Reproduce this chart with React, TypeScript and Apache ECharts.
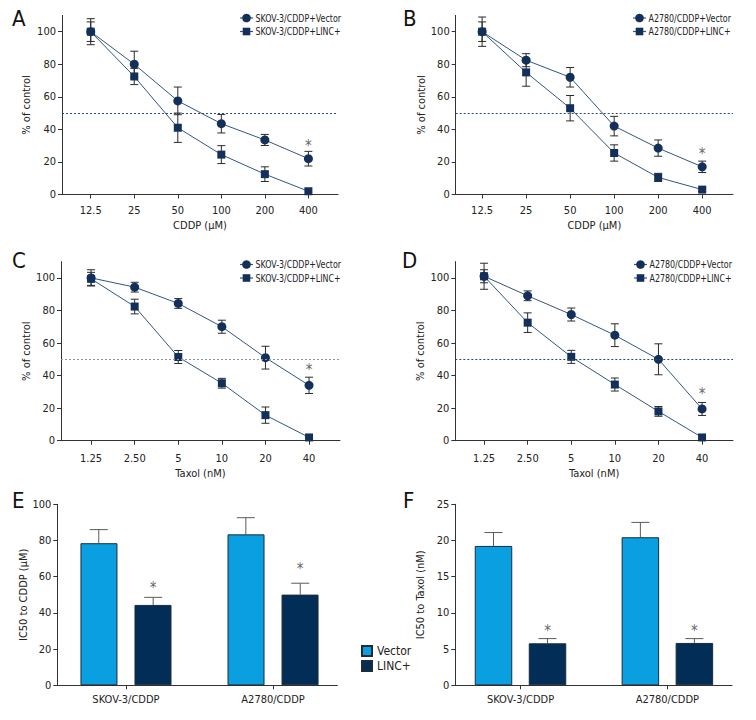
import React, { useEffect, useRef } from "react";
import * as echarts from "echarts";

// ---------- DATA ----------
const cddpDoses = ["12.5", "25", "50", "100", "200", "400"];
const taxolDoses = ["1.25", "2.50", "5", "10", "20", "40"];
const pctTicks = [0, 20, 40, 60, 80, 100];

const aVector = [100, 80, 57.5, 43.5, 33.5, 22];
const aVectorErr = [8, 8, 8.5, 5.7, 3.4, 4.5];
const aLinc = [100, 72.5, 41, 24.5, 12.5, 2];
const aLincErr = [6, 5, 9, 5.5, 4.5, 0];
const aStars = [[5, 30]];

const bVector = [100, 82.5, 72, 42, 28.5, 17];
const bVectorErr = [9, 4, 6, 6, 5, 3.5];
const bLinc = [100, 75, 53, 25.5, 10.5, 3];
const bLincErr = [6, 8.5, 7.8, 5, 2.5, 1];
const bStars = [[5, 25]];

const cVector = [100, 94.3, 84.3, 70, 51, 34];
const cVectorErr = [5, 3, 3, 4, 7, 5];
const cLinc = [99.4, 82.4, 51.4, 35.3, 15.7, 2];
const cLincErr = [4, 4.5, 4, 3, 5, 0];
const cStars = [[5, 43.3]];

const dVector = [101, 89, 77.5, 64.8, 50, 19.5];
const dVectorErr = [8, 3, 4, 7, 9.5, 4];
const dLinc = [101, 72.5, 51.5, 34.5, 18, 2];
const dLincErr = [4, 6, 4, 4, 3, 0];
const dStars = [[5, 28.6]];

const cellLines = ["SKOV-3/CDDP", "A2780/CDDP"];
const eVector = [78.5, 83.4];
const eVectorErr = [7.5, 9.2];
const eLinc = [44.4, 50.1];
const eLincErr = [4.2, 6.3];
const eStars = [53.6, 64.3];
const eTicks = [0, 20, 40, 60, 80, 100];

const fVector = [19.25, 20.45];
const fVectorErr = [1.85, 2.05];
const fLinc = [5.8, 5.85];
const fLincErr = [0.65, 0.6];
const fStars = [7.5, 7.5];
const fTicks = [0, 5, 10, 15, 20, 25];

const skovNames = ["SKOV-3/CDDP+Vector", "SKOV-3/CDDP+LINC+"];
const a2780Names = ["A2780/CDDP+Vector", "A2780/CDDP+LINC+"];
const barNames = ["Vector", "LINC+"];

// ---------- STYLE ----------
const FONT = "'Liberation Sans Narrow', 'Arial Narrow', 'DejaVu Sans Condensed', 'Roboto Condensed', sans-serif";
const TXT = "#222";
const AXIS = "#333";
const MARK = "#12305a";
const LINE = "#33567f";
const LIGHT = "#0a9fe0";
const NAVY = "#012d57";
const STAR = "#3a3a3a";

const idx6 = [0, 1, 2, 3, 4, 5];

function errRender(capHalf: number, offset: number, color: string, upOnly: boolean) {
  return (params: any, api: any) => {
    const x = api.value(0);
    const y = api.value(1);
    const e = api.value(2);
    if (!e) return null;
    const top = api.coord([x, y + e]);
    const bot = upOnly ? api.coord([x, y]) : api.coord([x, y - e]);
    const cx = top[0] + offset;
    const st = { stroke: color, lineWidth: 1, fill: null };
    const children: any[] = [
      { type: "line", shape: { x1: cx, y1: top[1], x2: cx, y2: bot[1] }, style: st },
      { type: "line", shape: { x1: cx - capHalf, y1: top[1], x2: cx + capHalf, y2: top[1] }, style: st },
    ];
    if (!upOnly) {
      children.push({ type: "line", shape: { x1: cx - capHalf, y1: bot[1], x2: cx + capHalf, y2: bot[1] }, style: st });
    }
    return { type: "group", children };
  };
}

function starSeries(i: number, data: number[][], offsetX: number) {
  return {
    type: "scatter", xAxisIndex: i, yAxisIndex: i, silent: true, z: 5,
    symbol: "circle", symbolSize: 1,
    itemStyle: { color: "rgba(255,255,255,0)" },
    label: {
      show: true, formatter: "*", position: "inside", offset: [offsetX, 0],
      color: STAR, fontSize: 15, fontFamily: FONT,
    },
    data,
  };
}

type LinePanel = {
  grid: any;
  xmin: number;
  xmax: number;
  cats: string[];
  vec: number[];
  vecErr: number[];
  linc: number[];
  lincErr: number[];
  stars: number[][];
  names: string[];
  xName: string;
  yGap: number;
  labelMargin: number;
  xNameGap: number;
  legend: { x: number; y: number };
  dash: string;
};

const linePanels: LinePanel[] = [
  {
    grid: { left: 62, top: 15.4, width: 276, height: 179.1 },
    xmin: -0.66, xmax: 5.68, cats: cddpDoses,
    vec: aVector, vecErr: aVectorErr, linc: aLinc, lincErr: aLincErr, stars: aStars,
    names: skovNames, xName: "CDDP (\u03bcM)", yGap: 30, labelMargin: 10, xNameGap: 25,
    legend: { x: 240, y: 18 }, dash: "#2e4a6e",
  },
  {
    grid: { left: 455.7, top: 15.4, width: 277.3, height: 179.1 },
    xmin: -0.6, xmax: 5.7, cats: cddpDoses,
    vec: bVector, vecErr: bVectorErr, linc: bLinc, lincErr: bLincErr, stars: bStars,
    names: a2780Names, xName: "CDDP (\u03bcM)", yGap: 29, labelMargin: 10, xNameGap: 25,
    legend: { x: 633, y: 18 }, dash: "#2e4a6e",
  },
  {
    grid: { left: 61, top: 261.6, width: 279, height: 179.1 },
    xmin: -0.69, xmax: 5.71, cats: taxolDoses,
    vec: cVector, vecErr: cVectorErr, linc: cLinc, lincErr: cLincErr, stars: cStars,
    names: skovNames, xName: "Taxol (nM)", yGap: 28.5, labelMargin: 12, xNameGap: 27,
    legend: { x: 240, y: 264.5 }, dash: "#8a96a3",
  },
  {
    grid: { left: 455.3, top: 261.6, width: 277.7, height: 179.1 },
    xmin: -0.66, xmax: 5.71, cats: taxolDoses,
    vec: dVector, vecErr: dVectorErr, linc: dLinc, lincErr: dLincErr, stars: dStars,
    names: a2780Names, xName: "Taxol (nM)", yGap: 29, labelMargin: 12, xNameGap: 27,
    legend: { x: 634, y: 264.5 }, dash: "#2e4a6e",
  },
];

type BarPanel = {
  grid: any;
  xmin: number;
  xmax: number;
  vec: number[];
  vecErr: number[];
  linc: number[];
  lincErr: number[];
  stars: number[];
  max: number;
  ticks: number[];
  yName: string;
  yGap: number;
  barWidth: number;
  barGap: string;
  offset: number;
};

const barPanels: BarPanel[] = [
  {
    grid: { left: 57.3, top: 504.3, width: 280, height: 181 },
    xmin: -0.467, xmax: 1.437,
    vec: eVector, vecErr: eVectorErr, linc: eLinc, lincErr: eLincErr, stars: eStars,
    max: 100, ticks: eTicks, yName: "IC50 to CDDP (\u03bcM)", yGap: 24,
    barWidth: 37, barGap: "46%", offset: 27.2,
  },
  {
    grid: { left: 455.3, top: 504.3, width: 276.7, height: 181 },
    xmin: -0.444, xmax: 1.44,
    vec: fVector, vecErr: fVectorErr, linc: fLinc, lincErr: fLincErr, stars: fStars,
    max: 25, ticks: fTicks, yName: "IC50 to Taxol (nM)", yGap: 29,
    barWidth: 37.5, barGap: "44%", offset: 27,
  },
];

function legendGraphic(p: LinePanel) {
  const txtStyle = (t: string) => ({
    text: t, font: `11px ${FONT}`, fill: TXT, verticalAlign: "middle", align: "left",
  });
  return {
    type: "group", x: p.legend.x, y: p.legend.y, silent: true,
    children: [
      { type: "line", shape: { x1: 0, y1: 0, x2: 13, y2: 0 }, style: { stroke: LINE, lineWidth: 1.2 } },
      { type: "circle", shape: { cx: 6.5, cy: 0, r: 4.3 }, style: { fill: MARK } },
      { type: "text", x: 15.5, y: 0, scaleX: 0.8, style: txtStyle(p.names[0]) },
      { type: "line", shape: { x1: 0, y1: 13.5, x2: 13, y2: 13.5 }, style: { stroke: LINE, lineWidth: 1.2 } },
      { type: "rect", shape: { x: 2.7, y: 9.7, width: 7.6, height: 7.6 }, style: { fill: MARK } },
      { type: "text", x: 15.5, y: 13.5, scaleX: 0.8, style: txtStyle(p.names[1]) },
    ],
  };
}

function buildOption() {
  const grid: any[] = [];
  const xAxis: any[] = [];
  const yAxis: any[] = [];
  const series: any[] = [];

  const labelStyle = { fontFamily: FONT, fontSize: 11, color: TXT };
  const axisLine = { show: true, onZero: false, lineStyle: { color: AXIS, width: 1 } };

  linePanels.forEach((p, i) => {
    grid.push({ ...p.grid, containLabel: false });
    xAxis.push({
      gridIndex: i, type: "value", min: p.xmin, max: p.xmax,
      name: p.xName, nameLocation: "middle", nameGap: p.xNameGap,
      nameTextStyle: labelStyle,
      axisLine,
      axisTick: { show: true, length: 4, customValues: idx6, lineStyle: { color: AXIS } },
      axisLabel: { ...labelStyle, margin: p.labelMargin, customValues: idx6, formatter: (v: number) => p.cats[Math.round(v)] },
      splitLine: { show: false },
    });
    yAxis.push({
      gridIndex: i, type: "value", min: 0, max: 110,
      name: "% of control", nameLocation: "middle", nameGap: p.yGap,
      nameTextStyle: labelStyle,
      axisLine,
      axisTick: { show: true, length: 4, customValues: pctTicks, lineStyle: { color: AXIS } },
      axisLabel: { ...labelStyle, margin: 6, customValues: pctTicks },
      splitLine: { show: false },
    });
    series.push({
      type: "custom", xAxisIndex: i, yAxisIndex: i, silent: true, z: 2,
      data: p.vec.map((v, j) => [j, v, p.vecErr[j]]),
      renderItem: errRender(4, 0, "#2a2a2a", false),
    });
    series.push({
      type: "custom", xAxisIndex: i, yAxisIndex: i, silent: true, z: 2,
      data: p.linc.map((v, j) => [j, v, p.lincErr[j]]),
      renderItem: errRender(4, 0, "#2a2a2a", false),
    });
    series.push({
      type: "line", name: p.names[0], xAxisIndex: i, yAxisIndex: i, z: 3,
      data: p.vec.map((v, j) => [j, v]),
      symbol: "circle", symbolSize: 9,
      itemStyle: { color: MARK },
      lineStyle: { color: LINE, width: 1 },
      markLine: {
        silent: true, symbol: "none", label: { show: false },
        lineStyle: { type: [2, 2], color: p.dash, width: 1 },
        data: [{ yAxis: 50 }],
      },
    });
    series.push({
      type: "line", name: p.names[1], xAxisIndex: i, yAxisIndex: i, z: 3,
      data: p.linc.map((v, j) => [j, v]),
      symbol: "rect", symbolSize: 8,
      itemStyle: { color: MARK },
      lineStyle: { color: LINE, width: 1 },
    });
    series.push(starSeries(i, p.stars, 0));
  });

  barPanels.forEach((p, k) => {
    const i = 4 + k;
    grid.push({ ...p.grid, containLabel: false });
    xAxis.push({
      gridIndex: i, type: "value", min: p.xmin, max: p.xmax,
      axisLine,
      axisTick: { show: true, length: 4, customValues: [0, 1], lineStyle: { color: AXIS } },
      axisLabel: { ...labelStyle, margin: 9, customValues: [0, 1], formatter: (v: number) => cellLines[Math.round(v)] },
      splitLine: { show: false },
    });
    yAxis.push({
      gridIndex: i, type: "value", min: 0, max: p.max,
      name: p.yName, nameLocation: "middle", nameGap: p.yGap,
      nameTextStyle: labelStyle,
      axisLine,
      axisTick: { show: true, length: 4, customValues: p.ticks, lineStyle: { color: AXIS } },
      axisLabel: { ...labelStyle, margin: 6, customValues: p.ticks },
      splitLine: { show: false },
    });
    series.push({
      type: "bar", name: barNames[0], xAxisIndex: i, yAxisIndex: i,
      data: p.vec.map((v, j) => [j, v]),
      barWidth: p.barWidth, barGap: p.barGap,
      itemStyle: { color: LIGHT, borderColor: "#1d2b3a", borderWidth: 1 },
    });
    series.push({
      type: "bar", name: barNames[1], xAxisIndex: i, yAxisIndex: i,
      data: p.linc.map((v, j) => [j, v]),
      barWidth: p.barWidth, barGap: p.barGap,
      itemStyle: { color: NAVY, borderColor: "#1d2b3a", borderWidth: 1 },
    });
    series.push({
      type: "custom", xAxisIndex: i, yAxisIndex: i, silent: true, z: 1,
      data: p.vec.map((v, j) => [j, v, p.vecErr[j]]),
      renderItem: errRender(9, -p.offset, "#5a5a5a", true),
    });
    series.push({
      type: "custom", xAxisIndex: i, yAxisIndex: i, silent: true, z: 1,
      data: p.linc.map((v, j) => [j, v, p.lincErr[j]]),
      renderItem: errRender(9, p.offset, "#5a5a5a", true),
    });
    series.push(starSeries(i, p.stars.map((v, j) => [j, v]), p.offset));
  });

  const legend = [
    {
      orient: "vertical", left: 361, top: 645, padding: 0,
      icon: "rect", itemWidth: 10, itemHeight: 10, itemGap: 3, selectedMode: false,
      textStyle: { fontFamily: FONT, fontSize: 12, color: TXT },
      data: barNames,
    },
  ];

  const letters = [
    { t: "A", x: 12, y: 7 },
    { t: "B", x: 403, y: 7 },
    { t: "C", x: 12, y: 249 },
    { t: "D", x: 402, y: 249 },
    { t: "E", x: 12, y: 489 },
    { t: "F", x: 403, y: 489 },
  ];

  const graphic: any[] = letters.map((l) => ({
    type: "text", x: l.x, y: l.y, silent: true,
    style: { text: l.t, font: `22px ${FONT}`, fill: "#111", verticalAlign: "top" },
  }));
  linePanels.forEach((p) => graphic.push(legendGraphic(p)));

  return {
    animation: false,
    backgroundColor: "#ffffff",
    textStyle: { fontFamily: FONT },
    grid,
    xAxis,
    yAxis,
    legend,
    series,
    graphic,
  };
}

export default function App() {
  const ref = useRef<HTMLDivElement>(null);
  useEffect(() => {
    if (!ref.current) return;
    const chart = echarts.init(ref.current, undefined, { renderer: "svg" });
    chart.setOption(buildOption() as any);
    return () => chart.dispose();
  }, []);
  return (
    <div
      ref={ref}
      style={{ position: "absolute", left: 0, top: 0, width: 756, height: 720, background: "#fff" }}
    />
  );
}
